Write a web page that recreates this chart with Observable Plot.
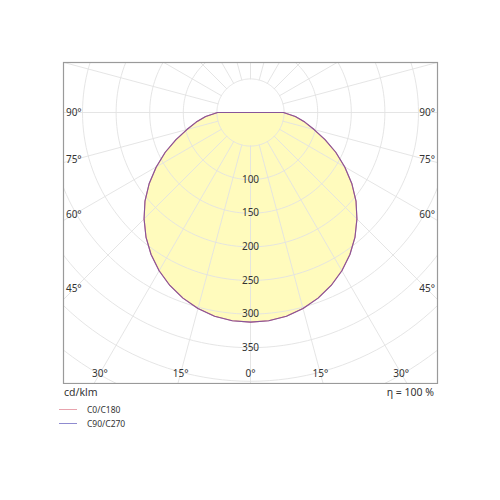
<!DOCTYPE html>
<html>
<head>
<meta charset="utf-8">
<script src="https://cdn.jsdelivr.net/npm/d3@7"></script>
<script src="https://cdn.jsdelivr.net/npm/@observablehq/plot@0.6"></script>
<style>
  html, body { margin: 0; padding: 0; background: #fff; }
  body { width: 500px; font-family: "Noto Sans", "DejaVu Sans", sans-serif; color: #333; }
  #units { position: relative; height: 18px; width: 500px; font-size: 10.5px; }
  #units .l { position: absolute; left: 64px; top: 1px; }
  #units .r { position: absolute; right: 66px; top: 1px; }
  .leg { display: flex; align-items: center; height: 14px; font-size: 8.5px; margin-left: 59px; }
  .leg .sw { display: inline-block; width: 18px; height: 1px; margin-right: 10px; }
</style>
</head>
<body>
<div id="chart"></div>
<div id="units"><span class="l">cd/klm</span><span class="r">η = 100 %</span></div>
<div id="legend"></div>
<script>
// Gamma angles (deg) and intensities (cd/klm)
const gamma = [0, 5, 10, 15, 20, 25, 30, 35, 40, 45, 50, 55, 60, 65, 70, 75, 80, 85, 90];
const c0c180 = [312, 311, 308, 302, 294, 284, 272, 258, 242, 224, 205, 184, 162, 140, 118, 98, 82, 67, 49];
const c90c270 = [312, 311, 308, 302, 294, 284, 272, 258, 242, 224, 205, 184, 162, 140, 118, 98, 82, 67, 49];
const seriesNames = ["C0/C180", "C90/C270"];
const seriesColors = ["#d9576e", "#5a55b0"];
const legendColors = ["#e8a3ad", "#8f8bd0"];
const radiusTicks = [100, 150, 200, 250, 300, 350];
const gridRadii = [50, 100, 150, 200, 250, 300, 350, 400, 450, 500];
const bottomAngleTicks = [-30, -15, 0, 15, 30];
const sideAngleTicks = [45, 60, 75, 90];
const fillColor = "#fffbbd";

const rad = d => d * Math.PI / 180;
// polar -> cartesian (angle measured from straight down, y grows downward)
const px = (r, a) => r * Math.sin(rad(a));
const py = (r, a) => r * Math.cos(rad(a));

function curve(vals) {
  const pts = [];
  for (let i = gamma.length - 1; i >= 0; i--) pts.push({x: px(vals[i], -gamma[i]), y: py(vals[i], -gamma[i])});
  for (let i = 1; i < gamma.length; i++) pts.push({x: px(vals[i], gamma[i]), y: py(vals[i], gamma[i])});
  return pts;
}
const curveC0 = curve(c0c180);
const curveC90 = curve(c90c270);

const circles = [];
for (const r of gridRadii) for (let a = 0; a <= 360; a += 2) circles.push({r, x: px(r, a), y: py(r, a)});
const spokes = [];
for (let a = 0; a < 360; a += 15) { spokes.push({a, x: px(50, a), y: py(50, a)}); spokes.push({a, x: px(900, a), y: py(900, a)}); }

const xDom = [-278.3, 278.3];
const yDom = [403.3, -74.4];
const bottomLabelY = 388.4;
const sideLabelX = 263;
const bottomLabels = bottomAngleTicks.map(a => ({x: bottomLabelY * Math.tan(rad(a)), y: bottomLabelY, t: Math.abs(a) + "°"}));
const sideLabels = sideAngleTicks.flatMap(a => [
  {x: -sideLabelX, y: sideLabelX / Math.tan(rad(a)), t: a + "°"},
  {x: sideLabelX, y: sideLabelX / Math.tan(rad(a)), t: a + "°"}
]);

const chart = Plot.plot({
  width: 500, height: 384,
  marginTop: 62, marginBottom: 1, marginLeft: 63, marginRight: 63,
  x: {domain: xDom, axis: null},
  y: {domain: yDom, axis: null},
  style: {fontFamily: "'Noto Sans', 'DejaVu Sans', sans-serif", fontSize: "10px", color: "#333"},
  marks: [
    Plot.line(curveC0, {x: "x", y: "y", fill: fillColor, stroke: "none", curve: "linear-closed"}),
    Plot.line(circles, {x: "x", y: "y", z: "r", stroke: "#e2e2e2", strokeWidth: 0.9, clip: true}),
    Plot.line(spokes, {x: "x", y: "y", z: "a", stroke: "#e2e2e2", strokeWidth: 0.9, clip: true}),
    Plot.line(curveC0, {x: "x", y: "y", stroke: seriesColors[0], strokeWidth: 1.1, curve: "linear-closed"}),
    Plot.line(curveC90, {x: "x", y: "y", stroke: seriesColors[1], strokeWidth: 1.1, strokeOpacity: 0.65, curve: "linear-closed"}),
    Plot.text(radiusTicks, {x: 0, y: d => d, text: d => String(d), fill: "#333", fontSize: 10}),
    Plot.text(bottomLabels, {x: "x", y: "y", text: "t", fill: "#333", fontSize: 10}),
    Plot.text(sideLabels, {x: "x", y: "y", text: "t", fill: "#333", fontSize: 10}),
    Plot.frame({stroke: "#9a9a9a", strokeWidth: 1.2})
  ]
});
document.getElementById("chart").appendChild(chart);

const leg = document.getElementById("legend");
seriesNames.forEach((n, i) => {
  const row = document.createElement("div");
  row.className = "leg";
  const sw = document.createElement("span");
  sw.className = "sw";
  sw.style.background = legendColors[i];
  const t = document.createElement("span");
  t.textContent = n;
  row.appendChild(sw); row.appendChild(t);
  leg.appendChild(row);
});
</script>
</body>
</html>
